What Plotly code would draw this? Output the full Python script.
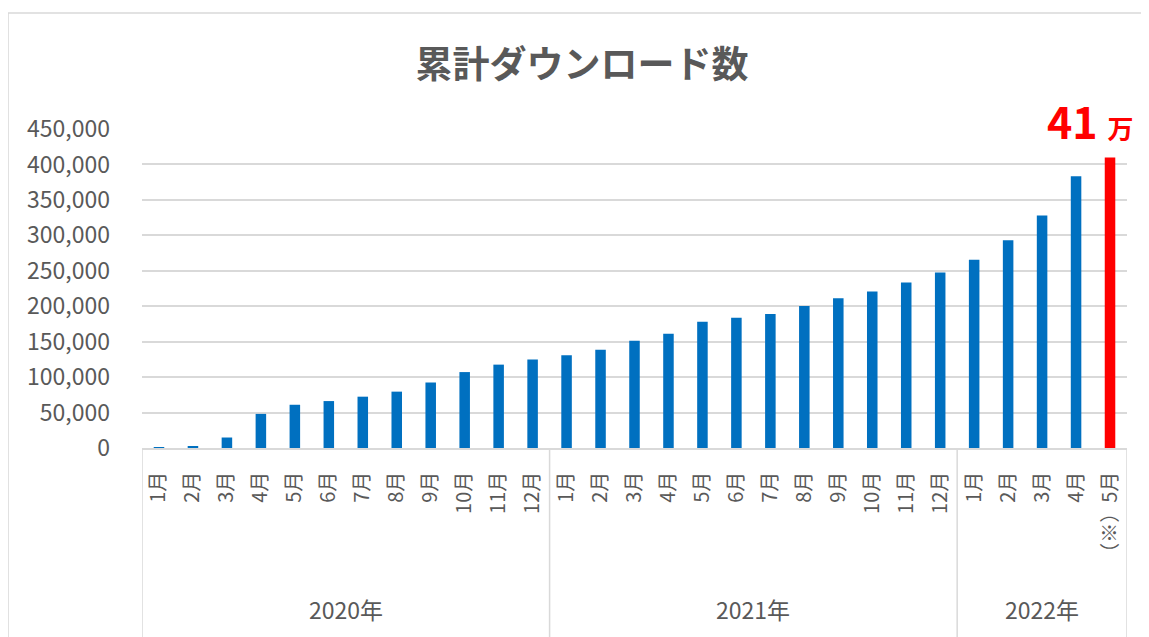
import plotly.graph_objects as go

# ---- data ----
years = ["2020年", "2021年", "2022年"]
months_2020 = ["1月", "2月", "3月", "4月", "5月", "6月", "7月", "8月", "9月", "10月", "11月", "12月"]
months_2021 = ["1月", "2月", "3月", "4月", "5月", "6月", "7月", "8月", "9月", "10月", "11月", "12月"]
months_2022 = ["1月", "2月", "3月", "4月", "（※）5月"]
values_2020 = [800, 2400, 14800, 48100, 61000, 66200, 72400, 79500, 92400, 107100, 117600, 124800]
values_2021 = [130900, 138500, 151200, 161200, 178200, 183800, 189000, 200400, 211300, 220700, 233500, 247600]
values_2022 = [265700, 292900, 328100, 383400, 409800]
highlight_label = "41"
highlight_unit = "万"
title_text = "累計ダウンロード数"

month_groups = [months_2020, months_2021, months_2022]
value_groups = [values_2020, values_2021, values_2022]

labels = [m for g in month_groups for m in g]
values = [v for g in value_groups for v in g]
xs = list(range(len(values)))

BLUE = "#0070C0"
RED = "#FF0000"
GRID = "#D9D9D9"
TXT = "#595959"
FONT = "Noto Sans CJK JP"

colors = [BLUE] * (len(values) - 1) + [RED]

fig = go.Figure()
fig.add_trace(go.Bar(x=xs, y=values, marker=dict(color=colors, line=dict(width=0)),
                     width=0.31, hoverinfo="skip"))

# group boundaries & year labels
shapes = []
annotations = []
start = 0
bounds = [-0.5]
for yr, g in zip(years, month_groups):
    end = start + len(g)
    bounds.append(end - 0.5)
    annotations.append(dict(x=(start + end - 1) / 2, y=-0.505, xref="x", yref="paper",
                            text=yr, showarrow=False, xanchor="center", yanchor="middle",
                            font=dict(family=FONT, size=23, color=TXT)))
    start = end
for b in bounds:
    shapes.append(dict(type="line", xref="x", yref="paper", x0=b, x1=b, y0=0, y1=-0.62,
                       line=dict(color=GRID, width=1.5)))

# outer chart frame
shapes.append(dict(type="rect", xref="paper", yref="paper", x0=-0.136, x1=1.2, y0=-1.0, y1=1.3636,
                   line=dict(color=GRID, width=1.5), fillcolor="rgba(0,0,0,0)", layer="below"))

# highlight annotation on last bar
annotations.append(dict(x=xs[-1], y=values[-1], xref="x", yref="y",
                        text=f"<b>{highlight_label}</b> <b><span style='font-size:26px'>{highlight_unit}</span></b>",
                        showarrow=False, xanchor="center", yanchor="bottom", xshift=-20, yshift=5,
                        font=dict(family=FONT, size=43, color=RED)))

fig.update_layout(
    width=1141, height=629,
    margin=dict(l=134, r=22, t=121, b=189, autoexpand=False),
    paper_bgcolor="white", plot_bgcolor="white",
    showlegend=False,
    bargap=0.69,
    title=dict(text=f"<b>{title_text}</b>", x=0.5031, xanchor="center", y=0.9094, yanchor="middle",
               font=dict(family=FONT, size=37, color=TXT)),
    shapes=shapes,
    annotations=annotations,
    font=dict(family=FONT, color=TXT),
)
fig.update_xaxes(range=[-0.5, len(values) - 0.5], tickmode="array", tickvals=xs, ticktext=labels,
                 tickangle=-90, tickfont=dict(family=FONT, size=20, color=TXT),
                 showgrid=False, zeroline=False, showline=True, linecolor=GRID, linewidth=1.5,
                 ticks="", ticklabelstandoff=14, automargin=False, fixedrange=True)
fig.update_yaxes(range=[0, 450000], dtick=50000, tickformat=",", showgrid=True, gridcolor=GRID,
                 gridwidth=1.5, zeroline=False, showline=False, ticks="",
                 tickfont=dict(family=FONT, size=23, color=TXT), ticklabelstandoff=31,
                 automargin=False, fixedrange=True)

fig.write_html("out.html")
